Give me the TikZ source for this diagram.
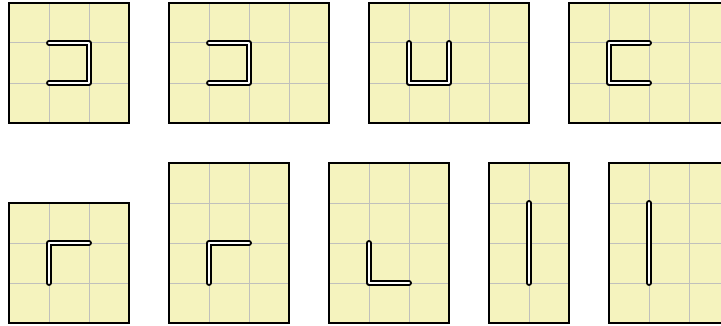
\documentclass[tikz,border=0pt]{standalone}
\usetikzlibrary{arrows.meta}

\definecolor{boardyellow}{RGB}{245,243,190}
\definecolor{gridgrey}{RGB}{192,192,188}

% one board: lower-left corner, columns, rows, pipe path
\newcommand{\board}[5]{%
  \begin{scope}[shift={(#1,#2)}]
    \fill[boardfill] (0,0) rectangle (#3,#4);
    \draw[gridline] (0,0) grid (#3,#4);
    \draw[boardedge] (0,0) rectangle (#3,#4);
    \draw[pipe] #5;
  \end{scope}}

\begin{document}
\begin{tikzpicture}[x=1cm,y=1cm]
\tikzset{
  boardfill/.style={fill=boardyellow},
  gridline/.style={draw=gridgrey,line width=0.7pt,step=1},
  boardedge/.style={draw=black,line width=1.4pt,line join=miter},
  pipe/.style={draw=black,double=white,double distance=1.5pt,line width=1.35pt,line cap=round,line join=round}
}
\clip (0,0) rectangle (18.025,8.15);
% top row
\board{0.225}{5.075}{3}{3}{(1,2) -- (2,2) -- (2,1) -- (1,1)}
\board{4.225}{5.075}{4}{3}{(1,2) -- (2,2) -- (2,1) -- (1,1)}
\board{9.225}{5.075}{4}{3}{(1,2) -- (1,1) -- (2,1) -- (2,2)}
\board{14.225}{5.075}{4}{3}{(2,2) -- (1,2) -- (1,1) -- (2,1)}
% bottom row
\board{0.225}{0.075}{3}{3}{(1,1) -- (1,2) -- (2,2)}
\board{4.225}{0.075}{3}{4}{(1,1) -- (1,2) -- (2,2)}
\board{8.225}{0.075}{3}{4}{(1,2) -- (1,1) -- (2,1)}
\board{12.225}{0.075}{2}{4}{(1,3) -- (1,1)}
\board{15.225}{0.075}{3}{4}{(1,3) -- (1,1)}
\end{tikzpicture}
\end{document}
